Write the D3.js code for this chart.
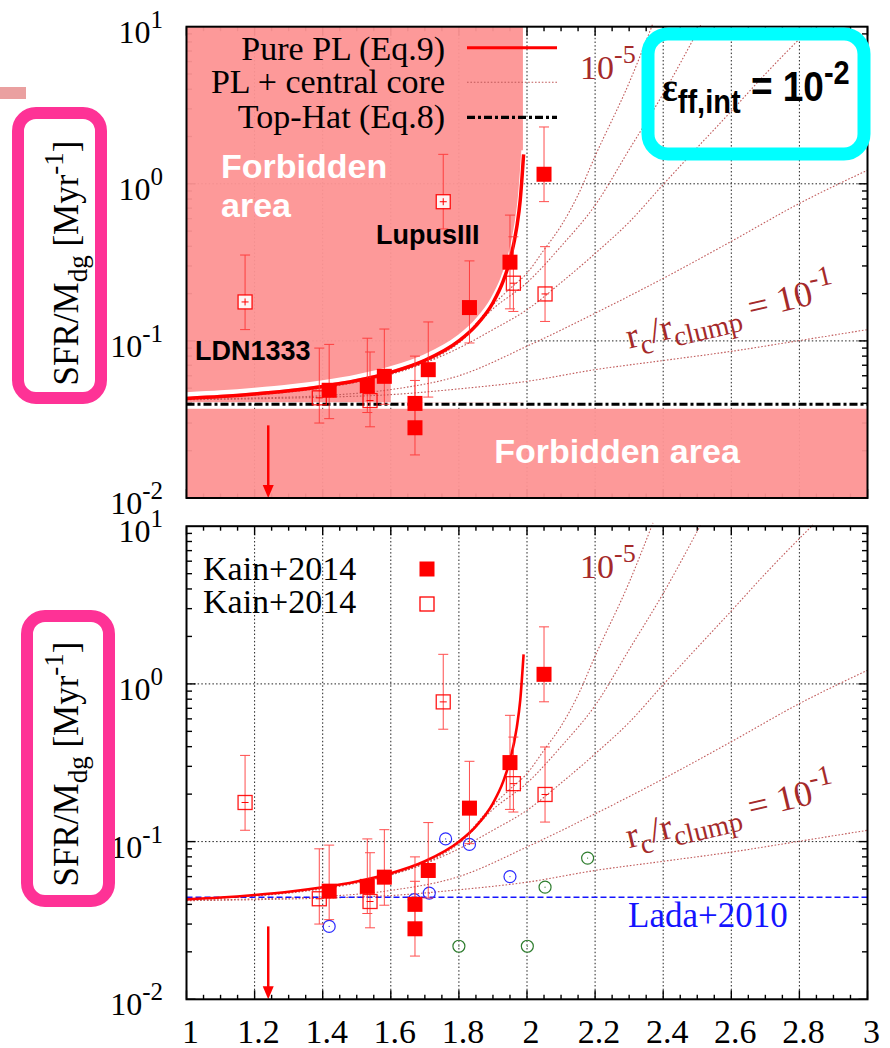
<!DOCTYPE html>
<html><head><meta charset="utf-8">
<script src="https://cdn.jsdelivr.net/npm/d3@7"></script>
<style>body{margin:0;background:#fff}svg{display:block}</style>
</head><body>
<svg id="fig" width="890" height="1048"></svg>
<script>
// ---- axis ticks ----
const xTicks = [1, 1.2, 1.4, 1.6, 1.8, 2, 2.2, 2.4, 2.6, 2.8, 3];
const xTickLabels = ["1", "1.2", "1.4", "1.6", "1.8", "2", "2.2", "2.4", "2.6", "2.8", "3"];
const yDecades = [10, 1, 0.1, 0.01];
const yExponents = ["1", "0", "-1", "-2"];

// ---- models ----
const topHatSFR = 0.0395;     // uniform clump (Eq.8)
const lada2010SFR = 0.0444;   // Lada+2010 mean value

const pureP   = [1.0, 1.1, 1.2, 1.3, 1.4, 1.5, 1.6, 1.7, 1.8, 1.85, 1.9, 1.93, 1.95, 1.97, 1.98, 1.99];
const pureSFR = [0.0430, 0.0442, 0.0459, 0.0481, 0.0513, 0.0559, 0.0630, 0.0751, 0.0999, 0.125, 0.175, 0.240, 0.327, 0.530, 0.783, 1.54];

// power law with a central core, one track per r_c/r_clump
const core5P   = [1.0, 1.5, 1.8, 1.9, 1.95, 2.0, 2.05, 2.1, 2.15, 2.2, 2.3, 2.37];
const core5SFR = [0.0429, 0.0557, 0.0995, 0.170, 0.215, 0.27, 0.38, 0.54, 0.85, 1.5, 4.4, 10.5];
const core4P   = [1.0, 1.5, 1.8, 1.9, 2.0, 2.1, 2.2, 2.3, 2.4, 2.51];
const core4SFR = [0.0428, 0.0553, 0.097, 0.160, 0.235, 0.40, 0.73, 1.65, 3.75, 10.2];
const core3P   = [1.0, 1.5, 1.8, 1.9, 2.0, 2.1, 2.2, 2.3, 2.4, 2.5, 2.6, 2.7, 2.84];
const core3SFR = [0.0427, 0.0545, 0.090, 0.118, 0.158, 0.235, 0.36, 0.57, 0.99, 1.7, 2.9, 5.0, 10.2];
const core2P   = [1.0, 1.2, 1.4, 1.6, 1.8, 2.0, 2.2, 2.4, 2.6, 2.8, 3.0];
const core2SFR = [0.0424, 0.0433, 0.0448, 0.0490, 0.060, 0.0925, 0.150, 0.25, 0.43, 0.75, 1.22];
const core1P   = [1.0, 1.2, 1.4, 1.6, 1.8, 2.0, 2.2, 2.4, 2.6, 2.8, 3.0];
const core1SFR = [0.0422, 0.0428, 0.0438, 0.0455, 0.0495, 0.0553, 0.0656, 0.075, 0.0858, 0.1005, 0.118];

// ---- observations ----
// Kain+2014, filled symbols
const kainFilledP   = [1.419, 1.531, 1.581, 1.671, 1.671, 1.710, 1.831, 1.950, 2.050];
const kainFilledSFR = [0.0485, 0.052, 0.0595, 0.040, 0.028, 0.0656, 0.163, 0.317, 1.15];
const kainFilledLo  = [0.032, 0.035, 0.0395, 0.028, 0.0188, 0.0439, 0.097, 0.16, 0.77];
const kainFilledHi  = [0.095, 0.104, 0.119, 0.080, 0.056, 0.132, 0.323, 0.632, 2.30];
// Kain+2014, open symbols
const kainOpenP   = [1.172, 1.390, 1.539, 1.754, 1.960, 2.053];
const kainOpenSFR = [0.177, 0.0434, 0.0417, 0.769, 0.233, 0.199];
const kainOpenLo  = [0.118, 0.030, 0.0284, 0.516, 0.154, 0.133];
const kainOpenHi  = [0.352, 0.090, 0.085, 1.54, 0.46, 0.398];
const kainOpenNames = ["LDN1333", "", "", "LupusIII", "", ""];
// upper limit
const limitP = 1.24, limitFrom = 0.029, limitTo = 0.01;
// other clumps
const blueP   = [1.419, 1.669, 1.713, 1.761, 1.831, 1.950];
const blueSFR = [0.029, 0.0428, 0.0471, 0.104, 0.096, 0.060];
const greenP   = [1.800, 2.001, 2.053, 2.178];
const greenSFR = [0.0217, 0.0217, 0.0514, 0.0786];

// ---- styling ----
const PINK = "#fd9494", RED = "#ff0000", BROWN = "#a52a2a", CORE = "#c05a5a";
const serif = "'Liberation Serif','Times New Roman',serif";
const sans = "'Liberation Sans',Arial,sans-serif";

const svg = d3.select("#fig");
const x = d3.scaleLinear().domain([1, 3]).range([186.5, 867.5]);
const zip = (a, b) => a.map((v, i) => [v, b[i]]);
const coreTracks = [zip(core5P, core5SFR), zip(core4P, core4SFR), zip(core3P, core3SFR), zip(core2P, core2SFR), zip(core1P, core1SFR)];
const pureTrack = zip(pureP, pureSFR);

function panel(top, bottom, isTop) {
  const y = d3.scaleLog().domain([0.01, 10]).range([bottom, top]);
  const g = svg.append("g");
  const L = x(1), R = x(3);
  const line = d3.line().x(d => x(d[0])).y(d => y(d[1])).curve(d3.curveMonotoneX);

  // grid
  const grid = g.append("g").attr("stroke", "#222").attr("stroke-width", 1).attr("stroke-dasharray", "1.5,2.2");
  xTicks.slice(1, -1).forEach(v => grid.append("line").attr("x1", x(v)).attr("x2", x(v)).attr("y1", top).attr("y2", bottom));
  [1, 0.1].forEach(v => grid.append("line").attr("x1", L).attr("x2", R).attr("y1", y(v)).attr("y2", y(v)));

  // ticks on all four sides
  const tk = g.append("g").attr("stroke", "#000").attr("stroke-width", 1.4);
  for (let v = 1; v <= 3.0001; v += 0.05) {
    const major = Math.abs(v * 5 - Math.round(v * 5)) < 1e-6;
    const len = major ? 9 : 4.5;
    tk.append("line").attr("x1", x(v)).attr("x2", x(v)).attr("y1", bottom).attr("y2", bottom - len);
    tk.append("line").attr("x1", x(v)).attr("x2", x(v)).attr("y1", top).attr("y2", top + len);
  }
  for (let d = -2; d <= 0; d++) {
    for (let m = 1; m <= 9; m++) {
      const v = m * Math.pow(10, d);
      const len = m === 1 ? 9 : 5.5;
      tk.append("line").attr("x1", L).attr("x2", L + len).attr("y1", y(v)).attr("y2", y(v));
      tk.append("line").attr("x1", R).attr("x2", R - len).attr("y1", y(v)).attr("y2", y(v));
    }
  }

  if (isTop) {
    // forbidden regions: above the pure power law (p < 2) and below the top-hat value
    const pEdge = 1.988;
    g.append("rect").attr("x", L).attr("y", top).attr("width", x(pEdge) - L)
      .attr("height", y(topHatSFR) - top - 2).attr("fill", PINK).attr("opacity", 0.95);
    // allowed band between the top-hat and the pure power law
    const allowed = d3.area().x(d => x(d[0])).y0(y(topHatSFR) - 2).y1(d => y(d[1])).curve(d3.curveMonotoneX);
    g.append("path").datum(pureTrack.filter(d => d[0] >= 1.6)).attr("d", allowed).attr("fill", "#fff");
    g.append("rect").attr("x", L).attr("y", y(topHatSFR) + 4.5).attr("width", R - L)
      .attr("height", bottom - y(topHatSFR) - 4.5).attr("fill", PINK).attr("opacity", 0.95);
    g.append("path").datum(pureTrack).attr("d", line).attr("fill", "none")
      .attr("stroke", "#fff").attr("stroke-width", 4.5).attr("transform", "translate(0,-4)");
  }

  // core tracks
  coreTracks.forEach(t => g.append("path").datum(t).attr("d", line).attr("fill", "none")
    .attr("stroke", CORE).attr("stroke-width", 1.1).attr("stroke-dasharray", "1.6,1.8"));

  // reference lines
  if (isTop) {
    g.append("line").attr("x1", L).attr("x2", R).attr("y1", y(topHatSFR)).attr("y2", y(topHatSFR))
      .attr("stroke", "#000").attr("stroke-width", 3.2).attr("stroke-dasharray", "8,3,3,3");
  } else {
    g.append("line").attr("x1", L).attr("x2", R).attr("y1", y(lada2010SFR)).attr("y2", y(lada2010SFR))
      .attr("stroke", "#1414ff").attr("stroke-width", 1.5).attr("stroke-dasharray", "6,3");
  }

  // pure power law
  g.append("path").datum(pureTrack).attr("d", line).attr("fill", "none")
    .attr("stroke", RED).attr("stroke-width", isTop ? 3.5 : 2.6);

  // other clumps (lower panel)
  if (!isTop) {
    [[blueP, blueSFR, "#2a2aff"], [greenP, greenSFR, "#2e7d2e"]].forEach(([ps, vs, c]) => {
      ps.forEach((p, i) => {
        g.append("circle").attr("cx", x(p)).attr("cy", y(vs[i])).attr("r", 6)
          .attr("fill", "none").attr("stroke", c).attr("stroke-width", 1.2);
        g.append("circle").attr("cx", x(p)).attr("cy", y(vs[i])).attr("r", 0.6).attr("fill", c);
      });
    });
  }

  // error bars
  const eb = g.append("g").attr("stroke", "#ff3030").attr("stroke-width", 1).attr("opacity", 0.85);
  const bar = (p, lo, hi) => {
    eb.append("line").attr("x1", x(p)).attr("x2", x(p)).attr("y1", y(lo)).attr("y2", y(hi));
    [lo, hi].forEach(v => eb.append("line").attr("x1", x(p) - 5).attr("x2", x(p) + 5).attr("y1", y(v)).attr("y2", y(v)));
  };
  kainOpenP.forEach((p, i) => bar(p, kainOpenLo[i], kainOpenHi[i]));
  kainFilledP.forEach((p, i) => bar(p, kainFilledLo[i], kainFilledHi[i]));

  // open squares
  kainOpenP.forEach((p, i) => {
    const cx = x(p), cy = y(kainOpenSFR[i]);
    const white = isTop && kainOpenNames[i] !== "";
    g.append("rect").attr("x", cx - 7).attr("y", cy - 7).attr("width", 14).attr("height", 14)
      .attr("fill", white ? "#fff" : "none").attr("stroke", RED).attr("stroke-width", 1.3).attr("opacity", 0.9);
    g.append("line").attr("x1", cx - 3.5).attr("x2", cx + 3.5).attr("y1", cy).attr("y2", cy)
      .attr("stroke", RED).attr("stroke-width", 1);
    if (white) g.append("line").attr("x1", cx).attr("x2", cx).attr("y1", cy - 3.5).attr("y2", cy + 3.5)
      .attr("stroke", RED).attr("stroke-width", 1);
  });
  // filled squares
  kainFilledP.forEach((p, i) => {
    g.append("rect").attr("x", x(p) - 7.5).attr("y", y(kainFilledSFR[i]) - 7.5)
      .attr("width", 15).attr("height", 15).attr("fill", RED);
  });

  // upper limit arrow
  const ax = x(limitP);
  g.append("line").attr("x1", ax).attr("x2", ax).attr("y1", y(limitFrom)).attr("y2", y(limitTo) - 10)
    .attr("stroke", RED).attr("stroke-width", 2.5);
  g.append("path").attr("d", `M${ax - 5.5},${y(limitTo) - 13}L${ax + 5.5},${y(limitTo) - 13}L${ax},${y(limitTo)}Z`)
    .attr("fill", RED);

  // frame
  g.append("rect").attr("x", L).attr("y", top).attr("width", R - L).attr("height", bottom - top)
    .attr("fill", "none").attr("stroke", "#000").attr("stroke-width", 2);

  // y tick labels
  yDecades.forEach((v, i) => {
    const t = g.append("text").attr("x", 163).attr("y", y(v) + 16).attr("text-anchor", "end")
      .attr("font-family", serif).attr("font-size", 32).attr("fill", "#000");
    t.append("tspan").text("10");
    t.append("tspan").attr("font-size", 25).attr("dy", -15).text(yExponents[i]);
  });

  // track labels
  const t5 = g.append("text").attr("x", 580).attr("y", top + 52).attr("font-family", serif)
    .attr("font-size", 34).attr("fill", BROWN);
  t5.append("tspan").text("10");
  t5.append("tspan").attr("font-size", 26).attr("dy", -16).text("-5");

  const tr = g.append("text").attr("transform", `translate(629,${top + 322}) rotate(-13.5)`)
    .attr("font-family", serif).attr("font-size", 36).attr("fill", BROWN);
  tr.append("tspan").text("r");
  tr.append("tspan").attr("font-size", 28).attr("dy", 9).text("c");
  tr.append("tspan").attr("dy", -9).text("/r");
  tr.append("tspan").attr("font-size", 28).attr("dy", 9).text("clump");
  tr.append("tspan").attr("dy", -9).text(" = 10");
  tr.append("tspan").attr("font-size", 28).attr("dy", -16).text("-1");

  return y;
}

const yTop = panel(26.7, 498, true);
const yBot = panel(526.2, 999.3, false);

// x tick labels
xTicks.forEach((v, i) => svg.append("text").attr("x", x(v) + 4).attr("y", 1043).attr("text-anchor", "middle")
  .attr("font-family", serif).attr("font-size", 34).text(xTickLabels[i]));

// ---- top panel annotations ----
const legTop = svg.append("g").attr("font-family", serif).attr("font-size", 34).attr("text-anchor", "end");
legTop.append("text").attr("x", 445).attr("y", 60).text("Pure PL (Eq.9)");
legTop.append("text").attr("x", 445).attr("y", 93).text("PL + central core");
legTop.append("text").attr("x", 445).attr("y", 128).text("Top-Hat (Eq.8)");
svg.append("line").attr("x1", 467).attr("x2", 557).attr("y1", 47.7).attr("y2", 47.7).attr("stroke", RED).attr("stroke-width", 3);
svg.append("line").attr("x1", 467).attr("x2", 557).attr("y1", 82.3).attr("y2", 82.3).attr("stroke", CORE)
  .attr("stroke-width", 1.1).attr("stroke-dasharray", "1.6,1.8");
svg.append("line").attr("x1", 467).attr("x2", 557).attr("y1", 117.3).attr("y2", 117.3).attr("stroke", "#000")
  .attr("stroke-width", 3.2).attr("stroke-dasharray", "8,3,3,3");

const fb = svg.append("g").attr("font-family", sans).attr("font-weight", "bold").attr("font-size", 34).attr("fill", "#fff");
fb.append("text").attr("x", 221).attr("y", 178).text("Forbidden");
fb.append("text").attr("x", 221).attr("y", 217).text("area");
fb.append("text").attr("x", 617).attr("y", 463).attr("text-anchor", "middle").text("Forbidden area");

const names = svg.append("g").attr("font-family", sans).attr("font-weight", "bold").attr("font-size", 27).attr("fill", "#000");
names.append("text").attr("x", 376).attr("y", 244).text("LupusIII");
names.append("text").attr("x", 195).attr("y", 360).text("LDN1333");

// efficiency box
svg.append("rect").attr("x", 648).attr("y", 34).attr("width", 216).attr("height", 120).attr("rx", 20)
  .attr("fill", "none").attr("stroke", "#00ffff").attr("stroke-width", 13);
const eps = svg.append("text").attr("transform", "translate(662,101) scale(1,1.15)").attr("font-family", sans)
  .attr("font-weight", "bold").attr("font-size", 37).attr("fill", "#000");
eps.append("tspan").attr("font-family", serif).text("ε");
eps.append("tspan").attr("font-size", 29).attr("dy", 10).text("ff,int");
eps.append("tspan").attr("dy", -10).text(" = 10");
eps.append("tspan").attr("font-size", 29).attr("dy", -15).text("-2");

// ---- bottom panel annotations ----
const leg = svg.append("g").attr("font-family", serif).attr("font-size", 34);
leg.append("text").attr("x", 203).attr("y", 580).text("Kain+2014");
leg.append("text").attr("x", 203).attr("y", 613).text("Kain+2014");
svg.append("rect").attr("x", 419.5).attr("y", 561.5).attr("width", 15).attr("height", 15).attr("fill", RED);
svg.append("rect").attr("x", 420).attr("y", 597).attr("width", 14).attr("height", 14).attr("fill", "none")
  .attr("stroke", RED).attr("stroke-width", 1.3);
svg.append("text").attr("x", 628).attr("y", 927).attr("font-family", serif).attr("font-size", 35)
  .attr("fill", "#1414ff").text("Lada+2010");

// ---- y axis titles in highlight boxes ----
svg.append("rect").attr("x", 0).attr("y", 87).attr("width", 26).attr("height", 12).attr("fill", "#eaa0a0");
function yTitle(bx, by, bw, bh, cy) {
  svg.append("rect").attr("x", bx).attr("y", by).attr("width", bw).attr("height", bh).attr("rx", 18)
    .attr("fill", "#fff").attr("stroke", "#fe3296").attr("stroke-width", 12);
  const t = svg.append("text").attr("transform", `translate(78,${cy}) rotate(-90)`).attr("text-anchor", "middle")
    .attr("font-family", serif).attr("font-size", 35).attr("fill", "#000");
  t.append("tspan").text("SFR/M");
  t.append("tspan").attr("font-size", 27).attr("dy", 9).text("dg");
  t.append("tspan").attr("dy", -9).text(" [Myr");
  t.append("tspan").attr("font-size", 27).attr("dy", -15).text("-1");
  t.append("tspan").attr("dy", 15).text("]");
}
yTitle(18, 113, 83, 285, 263);
yTitle(27, 616, 82, 285, 764);
</script>
</body></html>
